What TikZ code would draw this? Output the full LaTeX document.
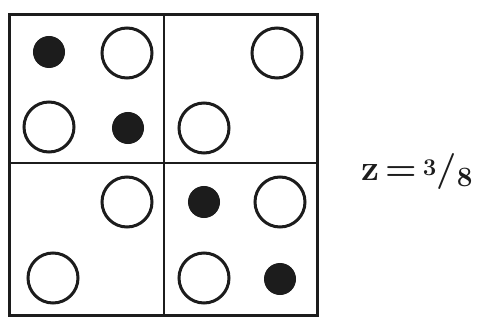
\documentclass[tikz,border=0pt]{standalone}
\usepackage{tikz}
\usetikzlibrary{positioning}
\usepackage{xcolor}
\definecolor{inkblack}{RGB}{28, 28, 28}
\tikzstyle{opencirc} = [circle, draw=inkblack, line width=3pt, minimum size=50pt, inner sep=0pt]
\tikzstyle{fullcirc} = [circle, draw=inkblack, fill=inkblack, line width=1pt, minimum size=31pt, inner sep=0pt]
\tikzstyle{frame} = [draw=inkblack, line width=3pt]
\tikzstyle{divider} = [draw=inkblack, line width=1.4pt]

\begin{document}
\begin{tikzpicture}[x=1pt, y=-1pt]

\useasboundingbox (0,0) rectangle (482,326);

% Frame and quadrants
\coordinate (nw) at (9,15);
\coordinate (se) at (317,315);
\coordinate (midtop) at (164,15);
\coordinate (midbot) at (164,315);
\coordinate (midleft) at (9,163);
\coordinate (midright) at (317,163);
\draw[divider] (midtop) -- (midbot);
\draw[divider] (midleft) -- (midright);
\draw[frame] (nw) rectangle (se);

% Top-left quadrant
\node[fullcirc] (tla) at (49,52) {};
\node[opencirc] (tlb) at (127,53) {};
\node[opencirc] (tlc) at (49,127) {};
\node[fullcirc] (tld) at (128,128) {};

% Top-right quadrant
\node[opencirc] (trb) at (277,53) {};
\node[opencirc] (trc) at (204,128) {};

% Bottom-left quadrant
\node[opencirc] (blb) at (127,202) {};
\node[opencirc] (blc) at (53,278) {};

% Bottom-right quadrant
\node[fullcirc] (bra) at (204,202) {};
\node[opencirc] (brb) at (280,202) {};
\node[opencirc] (brc) at (204,278) {};
\node[fullcirc] (brd) at (280,279) {};

% Ratio
\node[font=\fontsize{36}{42}\selectfont\bfseries, inkblack, inner sep=0pt] (ratio) at (417,172)
  {z\,=\,\raisebox{0.35ex}{\fontsize{24}{28}\selectfont 3}/\raisebox{-0.35ex}{\fontsize{28}{32}\selectfont 8}};

\end{tikzpicture}
\end{document}
